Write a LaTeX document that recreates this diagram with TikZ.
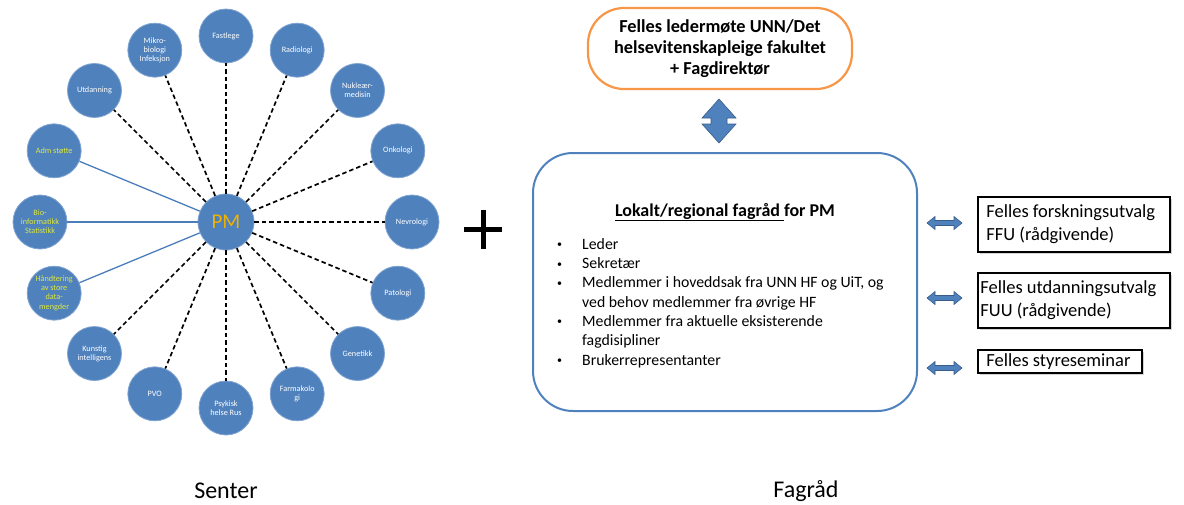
\documentclass[tikz,border=0pt]{standalone}
\usepackage{fontspec}
\setmainfont{Carlito}
\usetikzlibrary{calc,shadows}
\definecolor{cblue}{RGB}{79,129,189}
\definecolor{cblueedge}{RGB}{130,165,210}
\definecolor{darkblue}{RGB}{56,93,138}
\definecolor{lineblue}{RGB}{74,126,187}
\definecolor{cyellow}{RGB}{222,232,60}
\definecolor{pmgold}{RGB}{240,178,0}
\definecolor{corange}{RGB}{247,150,70}
\newcommand{\smallbul}{\raisebox{1.5pt}{\fontsize{10}{10}\selectfont\textbullet}}
\tikzset{
  circ/.style={circle, fill=cblue, draw=cblueedge, line width=0.8pt, minimum size=54pt, inner sep=0pt,
    text=white, font=\fontsize{8.2}{9.2}\selectfont, align=center},
  ylw/.style={text=cyellow},
  wht/.style={},
  dashln/.style={draw=black, line width=1.7pt, dash pattern=on 4.5pt off 3pt},
  solidln/.style={draw=lineblue, line width=1.3pt},
  sidebox/.style={draw=black, line width=1.6pt, fill=white, inner sep=0pt,
    drop shadow={shadow xshift=2pt, shadow yshift=-2pt, opacity=0.35}},
  sidetext/.style={anchor=west, align=left, inner sep=0pt, font=\fontsize{18.5}{23}\selectfont},
  blockarrow/.style={fill=cblue, draw=darkblue, line width=0.6pt},
  biglabel/.style={font=\fontsize{24}{28}\selectfont}
}
\begin{document}
\begin{tikzpicture}[x=1pt,y=-1pt]
\useasboundingbox (0,0) rectangle (1184,504);
% hub
\node[circ, minimum size=56pt, font=\fontsize{21}{24}\selectfont, text=pmgold] (pm) at (226,222) {PM};
\foreach \a/\n/\t/\c/\k in {
  90/fast/{Fastlege}/wht/dashln,
  67.5/radio/{Radiologi}/wht/dashln,
  45/nukl/{Nukleær-\\medisin}/wht/dashln,
  22.5/onko/{Onkologi}/wht/dashln,
  0/nevro/{Nevrologi}/wht/dashln,
  -22.5/pato/{Patologi}/wht/dashln,
  -45/gene/{Genetikk}/wht/dashln,
  -67.5/farma/{Farmakolo\\gi}/wht/dashln,
  -90/psyk/{Psykisk\\helse Rus}/wht/dashln,
  -112.5/pvo/{PVO}/wht/dashln,
  -135/ki/{Kunstig\\intelligens}/wht/dashln,
  -157.5/hand/{Håndtering\\av store\\data-\\mengder}/ylw/solidln,
  180/bio/{Bio-\\informatikk\\Statistikk}/ylw/solidln,
  157.5/adm/{Adm støtte}/ylw/solidln,
  135/utd/{Utdanning}/wht/dashln,
  112.5/mikro/{Mikro-\\biologi\\Infeksjon}/wht/dashln}{
  \node[circ,\c] (\n) at ($(pm)+(-\a:186)$) {\t};
  \draw[\k] (pm) -- (\n);
}
% plus sign
\node (plus) at (483,229) {};
\draw[line width=5pt] (464,229) -- (502,229);
\draw[line width=5pt] (483,209.5) -- (483,248.5);
% labels
\node[biglabel] (senter) at (226,491) {Senter};
\node[biglabel] (fagradlbl) at (806,491) {Fagråd};
% top box
\node[draw=corange, line width=2.2pt, rounded corners=36pt, minimum width=264pt, minimum height=81pt,
  align=center, font=\bfseries\fontsize{18.3}{21}\selectfont, inner sep=0pt] (leder) at (720,48.5)
  {Felles ledermøte UNN/Det\\helsevitenskapleige fakultet\\+ Fagdirektør};
% up-down block arrow
\draw[blockarrow] (702,118) -- (719,99) -- (736,118) -- (727,118) -- (727,124) -- (736,124)
  -- (719,143) -- (702,124) -- (711,124) -- (711,118) -- cycle;
% main box
\node[draw=cblue, line width=2pt, rounded corners=40pt, minimum width=384pt, minimum height=258pt] (fagrad) at (725,282) {};
\node[font=\bfseries\fontsize{18}{21}\selectfont] (title) at (725,212) {\underline{Lokalt/regional fagråd\ }for PM};
\node[anchor=north west, inner sep=0pt, font=\fontsize{15.8}{19.3}\selectfont] (list) at (557,235.5) {%
  \begin{tabular}{@{}p{25pt}@{}l@{}}
  \smallbul & Leder\\
  \smallbul & Sekretær\\
  \smallbul & Medlemmer i hoveddsak fra UNN HF og UiT, og\\
   & ved behov medlemmer fra øvrige HF\\
  \smallbul & Medlemmer fra aktuelle eksisterende\\
   & fagdisipliner\\
  \smallbul & Brukerrepresentanter
  \end{tabular}};
% side boxes
\node[sidebox, minimum width=192pt, minimum height=55pt] (ffu) at (1074,224.5) {};
\node[sidetext] (ffutext) at ($(ffu.west)+(9,0)$) {Felles forskningsutvalg\\FFU (rådgivende)};
\node[sidebox, minimum width=192pt, minimum height=55pt] (fuu) at (1074,300.5) {};
\node[sidetext] (fuutext) at ($(fuu.west)+(3,0)$) {Felles utdanningsutvalg\\FUU (rådgivende)};
\node[sidebox, minimum width=164pt, minimum height=23pt] (styre) at (1060,361.5) {};
\node[sidetext] (styretext) at ($(styre.west)+(9,0)$) {Felles styreseminar};
% small double arrows
\foreach \y in {223,298,368}{
  \draw[blockarrow] (927,\y) -- (935,\y-6.5) -- (935,\y-2.5) -- (954,\y-2.5) -- (954,\y-6.5) -- (962,\y)
    -- (954,\y+6.5) -- (954,\y+2.5) -- (935,\y+2.5) -- (935,\y+6.5) -- cycle;
}
\end{tikzpicture}
\end{document}
